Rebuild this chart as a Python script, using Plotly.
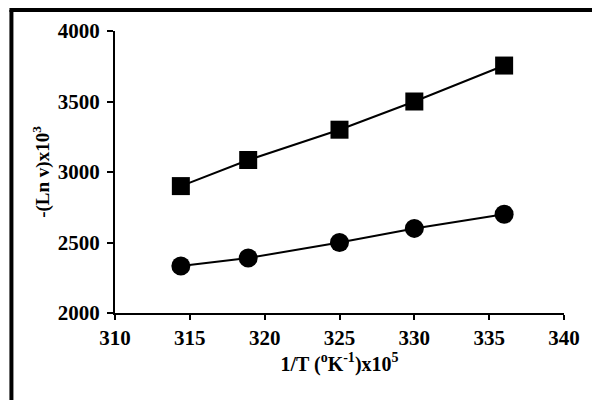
import plotly.graph_objects as go

x_vals = [314.4, 318.9, 325.0, 330.0, 336.0]
y_squares = [2900, 3085, 3300, 3500, 3755]
y_circles = [2333, 2390, 2500, 2600, 2700]

x_title = "<b>1/T (<sup>o</sup>K<sup>-1</sup>)x10<sup>5</sup></b>"
y_title = "<b>-(Ln v)x10<sup>3</sup></b>"

FONT = "Liberation Serif"
FS = 21

fig = go.Figure()
fig.add_trace(go.Scatter(x=x_vals, y=y_squares, mode="lines+markers",
                         line=dict(color="black", width=2),
                         marker=dict(symbol="square", size=18, color="black"),
                         showlegend=False))
fig.add_trace(go.Scatter(x=x_vals, y=y_circles, mode="lines+markers",
                         line=dict(color="black", width=2),
                         marker=dict(symbol="circle", size=19, color="black"),
                         showlegend=False))

W, H = 592, 400
L, R, T, B = 115, 24, 31, 87
pw, ph = W - L - R, H - T - B

def px_to_paper_x(px):
    return (px - L) / pw

def px_to_paper_y(py):
    return (H - B - py) / ph

fig.update_layout(
    width=W, height=H,
    margin=dict(l=L, r=R, t=T, b=B),
    paper_bgcolor="white", plot_bgcolor="white",
    font=dict(family=FONT, color="black", size=FS),
    xaxis=dict(range=[310, 340], dtick=5, tick0=310, showgrid=False, zeroline=False,
               showline=True, linecolor="black", linewidth=2,
               ticks="outside", ticklen=5, tickwidth=2, tickcolor="black",
               tickfont=dict(family=FONT, size=FS, color="black", weight="bold"),
               title=dict(text=x_title, font=dict(family=FONT, size=20, color="black"), standoff=6)),
    yaxis=dict(range=[2000, 4000], dtick=500, tick0=2000, showgrid=False, zeroline=False,
               showline=True, linecolor="black", linewidth=2,
               ticks="outside", ticklen=6, tickwidth=2, tickcolor="black",
               ticklabelstandoff=3,
               tickfont=dict(family=FONT, size=FS, color="black", weight="bold"),
               title=dict(text=y_title, font=dict(family=FONT, size=19, color="black"), standoff=3)),
    shapes=[
        dict(type="line", xref="paper", yref="paper",
             x0=px_to_paper_x(10.5), x1=px_to_paper_x(10.5),
             y0=px_to_paper_y(10), y1=px_to_paper_y(420),
             line=dict(color="black", width=4)),
        dict(type="line", xref="paper", yref="paper",
             x0=px_to_paper_x(8.5), x1=px_to_paper_x(620),
             y0=px_to_paper_y(10), y1=px_to_paper_y(10),
             line=dict(color="black", width=4)),
    ],
)

fig.write_html("out.html")
